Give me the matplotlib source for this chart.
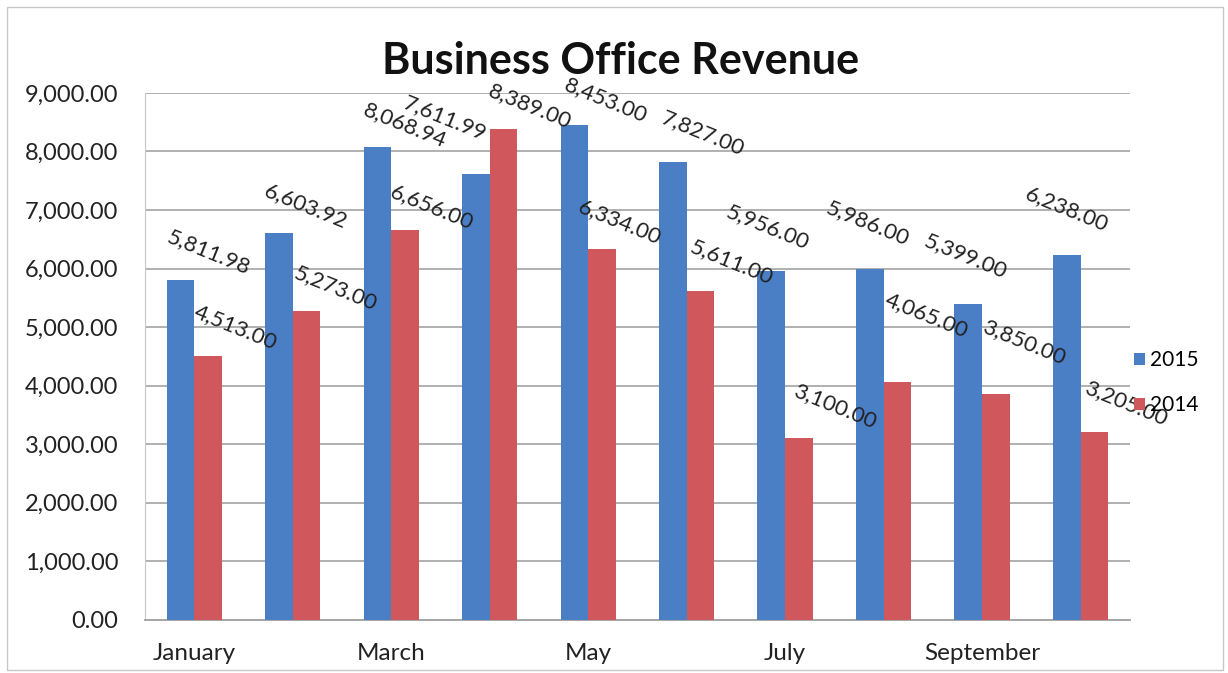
import numpy as np
import matplotlib.pyplot as plt
from matplotlib.ticker import FuncFormatter
from matplotlib.patches import Rectangle

plt.rcParams['font.family'] = ['Lato', 'DejaVu Sans']

# Data
months = ["January", "February", "March", "April", "May",
          "June", "July", "August", "September", "October"]
rev_2015 = [5811.98, 6603.92, 8068.94, 7611.99, 8453.00,
            7827.00, 5956.00, 5986.00, 5399.00, 6238.00]
rev_2014 = [4513.00, 5273.00, 6656.00, 8389.00, 6334.00,
            5611.00, 3100.00, 4065.00, 3850.00, 3205.00]

# label nudges (pixels right, pixels up) from the top of each bar
nudge_2015 = [(29, 27), (27, 27), (28, 22), (-31, 56), (32, 25),
              (30, 28), (-3, 44), (-2, 46), (-2, 48), (0, 45)]
nudge_2014 = [(28, 28), (29, 23), (27, 23), (27, 22), (18, 27),
              (31, 29), (36, 32), (29, 67), (28, 52), (32, 29)]

blue = "#4a7fc6"
red = "#d0575c"

fig = plt.figure(figsize=(12.28, 6.73), dpi=100)
ax = fig.add_axes([0.118, 0.079, 0.802, 0.783])

# chart border
fig.patches.append(Rectangle((0.006, 0.004), 0.99, 0.985, transform=fig.transFigure,
                             fill=False, edgecolor="#c8c8c8", linewidth=1))

x = np.arange(len(months))
w = 0.28
b15 = ax.bar(x - w / 2, rev_2015, w, color=blue, label="2015", zorder=3)
b14 = ax.bar(x + w / 2, rev_2014, w, color=red, label="2014", zorder=3)

# rotated data labels
for bars, nudges in ((b15, nudge_2015), (b14, nudge_2014)):
    for bar, (dx, dy) in zip(bars, nudges):
        h = bar.get_height()
        ax.annotate(f"{h:,.2f}",
                    (bar.get_x() + bar.get_width() / 2, h),
                    xytext=(dx, dy), textcoords="offset pixels",
                    ha="center", va="center", rotation=-22,
                    fontsize=16, color="#222222", zorder=5,
                    annotation_clip=False)

ax.set_xlim(-0.5, len(months) - 0.5)
ax.set_ylim(0, 9000)
ax.set_yticks(np.arange(0, 9001, 1000))
ax.yaxis.set_major_formatter(FuncFormatter(lambda v, p: f"{v:,.2f}"))
ax.set_xticks(x[::2])
ax.set_xticklabels(months[::2])
ax.tick_params(axis="both", length=0, colors="#222222")
ax.tick_params(axis="x", pad=17, labelsize=17.5)
ax.tick_params(axis="y", pad=19, labelsize=17)

ax.grid(axis="y", color="#b0b0b0", linewidth=1.4, zorder=0)
for side in ("top", "right"):
    ax.spines[side].set_visible(False)
ax.spines["left"].set_color("#c8c8c8")
ax.spines["bottom"].set_color("#a6a6a6")
ax.spines["bottom"].set_linewidth(1.4)

fig.text(0.505, 0.91, "Business Office Revenue", ha="center", va="center",
         fontsize=31, fontweight="bold", color="#111111")

ax.legend(loc="center left", bbox_to_anchor=(0.985, 0.45), frameon=False,
          fontsize=15, handlelength=0.55, handleheight=0.55, labelspacing=1.2,
          handletextpad=0.25)

fig.savefig("out.png", dpi=100)
